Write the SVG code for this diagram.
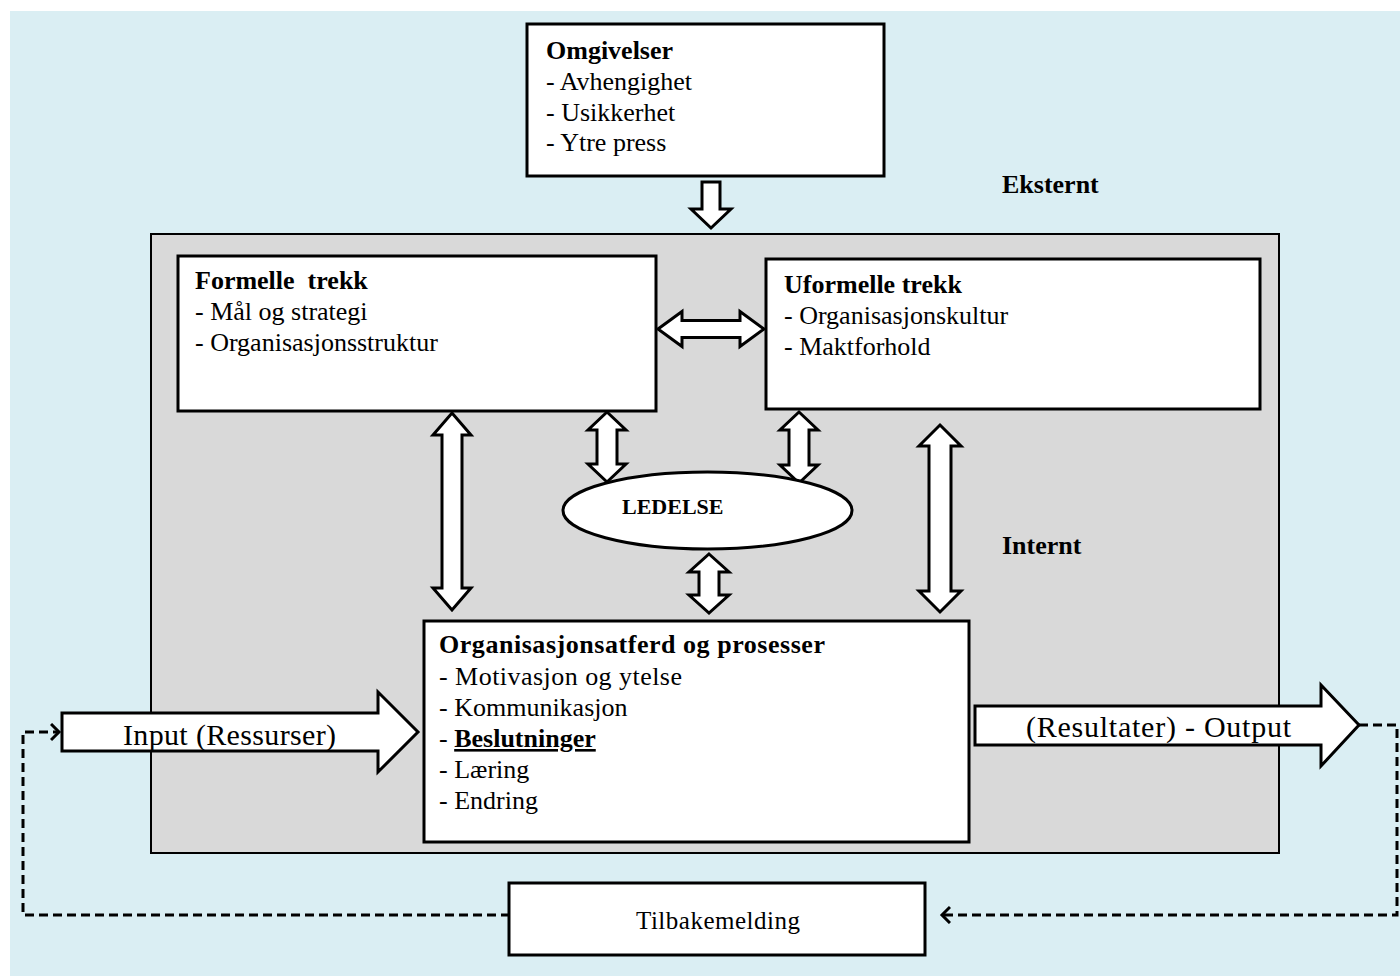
<svg xmlns="http://www.w3.org/2000/svg" width="1400" height="978" viewBox="0 0 1400 978">
  <defs>
    <style>
      .box { fill: #ffffff; stroke: #000000; stroke-width: 3; }
      .arr { fill: #ffffff; stroke: #000000; stroke-width: 3; stroke-linejoin: miter; }
      .dash { fill: none; stroke: #000000; stroke-width: 3; stroke-dasharray: 9 5; }
      .t { font-family: "Liberation Serif", "Times New Roman", serif; font-size: 26px; fill: #000000; }
      .b { font-weight: bold; }
      .big { font-size: 30px; }
    </style>
    <marker id="chev" markerUnits="userSpaceOnUse" markerWidth="14" markerHeight="20" refX="9" refY="9" orient="auto" viewBox="0 0 14 20">
      <path d="M1,1 L9,9 L1,17" fill="none" stroke="#000000" stroke-width="3"/>
    </marker>
  </defs>

  <!-- external environment background -->
  <rect x="10" y="11" width="1390" height="965" fill="#DAEEF3"/>

  <!-- internal organisation area -->
  <rect id="internal-area" x="151" y="234" width="1128" height="619" fill="#D9D9D9" stroke="#000000" stroke-width="2"/>

  <text class="t b" x="1002" y="193">Eksternt</text>
  <text class="t b" x="1002" y="554">Internt</text>

  <!-- connectors -->
  <g id="connectors">
    <!-- environment into organisation -->
    <polygon class="arr" points="702,182 720,182 720,209 731,209 711,228 691,209 702,209"/>
    <!-- formal <-> informal -->
    <polygon class="arr" points="658,329 682,311.5 682,320.5 740,320.5 740,311.5 764,329 740,346.5 740,337.5 682,337.5 682,346.5"/>
    <!-- formal <-> behaviour -->
    <polygon class="arr" points="452,413 471,435 462,435 462,588 471,588 452,610 433,588 442,588 442,435 433,435"/>
    <!-- formal <-> leadership -->
    <polygon class="arr" points="607,412 626,430 617,430 617,464 626,464 607,482 588,464 597,464 597,430 588,430"/>
    <!-- informal <-> leadership -->
    <polygon class="arr" points="799,412 818,430 809,430 809,465 818,465 799,483 780,465 789,465 789,430 780,430"/>
    <!-- leadership <-> behaviour -->
    <polygon class="arr" points="709,554 729,572 719,572 719,595 729,595 709,613 689,595 699,595 699,572 689,572"/>
    <!-- informal <-> behaviour -->
    <polygon class="arr" points="940,425 961,446 951,446 951,591 961,591 940,612 919,591 929,591 929,446 919,446"/>

    <!-- input and output -->
    <polygon class="arr" points="62,713 378,713 378,692 418,732 378,772 378,751 62,751"/>
    <polygon class="arr" points="975,706 1321,706 1321,685 1359,725 1321,766 1321,745 975,745"/>

    <!-- feedback loop -->
    <path class="dash" d="M1359,725 H1397 V915 H942" marker-end="url(#chev)"/>
    <path class="dash" d="M510,915 H23 V732 H59" marker-end="url(#chev)"/>
  </g>

  <text class="t big" x="123" y="745" textLength="213">Input (Ressurser)</text>
  <text class="t big" x="1026" y="737" textLength="265">(Resultater) - Output</text>

  <!-- environment -->
  <g id="omgivelser">
    <rect class="box" x="527" y="24" width="357" height="152"/>
    <text class="t b" x="546" y="59">Omgivelser</text>
    <text class="t" x="546" y="90">- Avhengighet</text>
    <text class="t" x="546" y="121">- Usikkerhet</text>
    <text class="t" x="546" y="151">- Ytre press</text>
  </g>

  <!-- formal features -->
  <g id="formelle">
    <rect class="box" x="178" y="256" width="478" height="155"/>
    <text class="t b" x="195" y="289" xml:space="preserve">Formelle  trekk</text>
    <text class="t" x="195" y="320">- Mål og strategi</text>
    <text class="t" x="195" y="351">- Organisasjonsstruktur</text>
  </g>

  <!-- informal features -->
  <g id="uformelle">
    <rect class="box" x="766" y="259" width="494" height="150"/>
    <text class="t b" x="784" y="293">Uformelle trekk</text>
    <text class="t" x="784" y="324">- Organisasjonskultur</text>
    <text class="t" x="784" y="355">- Maktforhold</text>
  </g>

  <!-- leadership -->
  <g id="ledelse">
    <ellipse class="box" cx="707.5" cy="510.5" rx="144.5" ry="38.5"/>
    <text class="t b" x="622" y="514" style="font-size:22px">LEDELSE</text>
  </g>

  <!-- behaviour and processes -->
  <g id="atferd">
    <rect class="box" x="424" y="621" width="545" height="221"/>
    <text class="t b" x="439" y="653" textLength="386">Organisasjonsatferd og prosesser</text>
    <text class="t" x="439" y="685" textLength="243">- Motivasjon og ytelse</text>
    <text class="t" x="439" y="716">- Kommunikasjon</text>
    <text class="t" x="439" y="747">- <tspan class="b" text-decoration="underline">Beslutninger</tspan></text>
    <text class="t" x="439" y="778">- Læring</text>
    <text class="t" x="439" y="809">- Endring</text>
  </g>

  <!-- feedback -->
  <g id="tilbakemelding">
    <rect class="box" x="509" y="883" width="416" height="72"/>
    <text class="t" x="636" y="929" style="font-size:25px" textLength="164">Tilbakemelding</text>
  </g>
</svg>
